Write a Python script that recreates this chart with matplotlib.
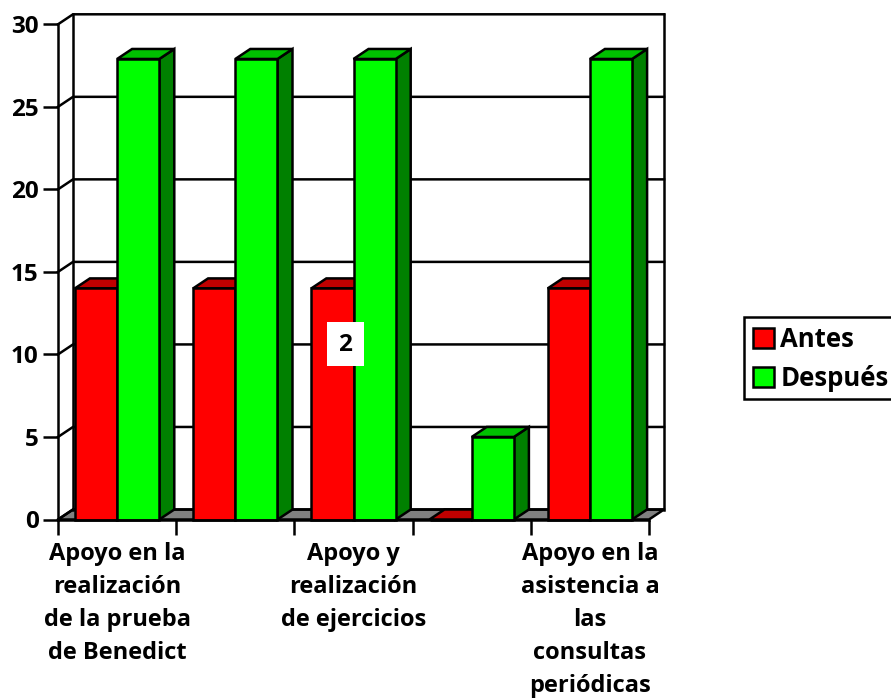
import matplotlib
matplotlib.use("Agg")
import matplotlib.pyplot as plt
from matplotlib.patches import Patch, Rectangle

plt.rcParams['font.family'] = ['Open Sans', 'DejaVu Sans']
plt.rcParams['font.weight'] = 'bold'

antes = [14, 14, 14, 0, 14]
despues = [27.9, 27.9, 27.9, 5, 27.9]
y_ticks = [0, 5, 10, 15, 20, 25, 30]
x_labels = ["Apoyo en la\nrealización\nde la prueba\nde Benedict", "",
            "Apoyo y\nrealización\nde ejercicios", "",
            "Apoyo en la\nasistencia a\nlas\nconsultas\nperiódicas"]
series_names = ["Antes", "Después"]
box_label = "2"

W, H = 891, 700
x0, x1, y0, y1 = 58, 649, 519.5, 24.3
# depth of the fake 3d, in data units
dx = 15 / ((x1 - x0) / 5)
dy = 10 / ((y0 - y1) / 30)
bar_w = 0.357
lw = 1.8

fig = plt.figure(figsize=(W / 100, H / 100), dpi=100)
ax = fig.add_axes([x0 / W, 1 - y0 / H, (x1 - x0) / W, (y0 - y1) / H])
ax.set_xlim(0, 5)
ax.set_ylim(0, 30)
for s in ax.spines.values():
    s.set_visible(False)
ax.patch.set_alpha(0)


def line(xs, ys, z=1):
    ax.plot(xs, ys, color='black', lw=lw, clip_on=False, zorder=z, solid_capstyle='projecting')


def poly(xs, ys, color, z):
    ax.fill(xs, ys, facecolor=color, edgecolor='black', lw=lw, clip_on=False, zorder=z)


# floor, walls and grid
poly([0, 5, 5 + dx, dx], [0, 0, dy, dy], '#808080', 1)
for v in y_ticks:
    line([0, dx, 5 + dx], [v, v + dy, v + dy])
line([0, 0], [0, 30])
line([dx, dx], [dy, 30 + dy])
line([5 + dx, 5 + dx], [dy, 30 + dy])
line([0, 5], [0, 0], 20)

# bars
z = 3
for i in range(len(antes)):
    for j, (vals, front, top, side) in enumerate([(antes, '#FF0000', '#C00000', '#800000'),
                                                  (despues, '#00FF00', '#00C000', '#008000')]):
        left = i + 0.5 - bar_w + j * bar_w
        v = vals[i]
        if v > 0:
            poly([left + bar_w, left + bar_w + dx, left + bar_w + dx, left + bar_w],
                 [0, dy, v + dy, v], side, z)
        poly([left, left + dx, left + bar_w + dx, left + bar_w], [v, v + dy, v + dy, v], top, z)
        ax.bar(left, v, width=bar_w, align='edge', color=front, edgecolor='black',
               linewidth=lw, clip_on=False, zorder=z)
        z += 1

# white box with the stray label
ax.add_patch(Rectangle((2.28, 9.3), 0.305, 2.67, facecolor='white', edgecolor='none', zorder=30))
ax.text(2.43, 10.6, box_label, ha='center', va='center', fontsize=17.5, zorder=31)

ax.set_yticks(y_ticks)
ax.set_xticks(range(6))
ax.set_xticklabels([])
ax.tick_params(axis='y', length=11, width=lw, labelsize=17.5, pad=3)
ax.tick_params(axis='x', length=11, width=lw)

for i, lab in enumerate(x_labels):
    if lab:
        for n, part in enumerate(lab.split("\n")):
            ax.annotate(part, (i + 0.5, 0), xytext=(0, -(34 + 33.2 * n) * 0.72), textcoords='offset points',
                        ha='center', va='center', fontsize=17, annotation_clip=False)

# legend frame runs off the right edge of the picture
fig.add_artist(Rectangle((744 / W, 1 - 399 / H), 160 / W, 82 / H, transform=fig.transFigure,
                         facecolor='white', edgecolor='black', lw=lw))
handles = [Patch(facecolor='#FF0000', edgecolor='black', lw=lw),
           Patch(facecolor='#00FF00', edgecolor='black', lw=lw)]
leg = fig.legend(handles, series_names, loc='center left',
                 bbox_to_anchor=(753 / W, 1 - 359 / H), bbox_transform=fig.transFigure,
                 borderaxespad=0, borderpad=0, frameon=False,
                 fontsize=18.5, handlelength=0.82, handleheight=0.82, handletextpad=0.25,
                 labelspacing=0.45)

fig.savefig("out.png", dpi=100)
